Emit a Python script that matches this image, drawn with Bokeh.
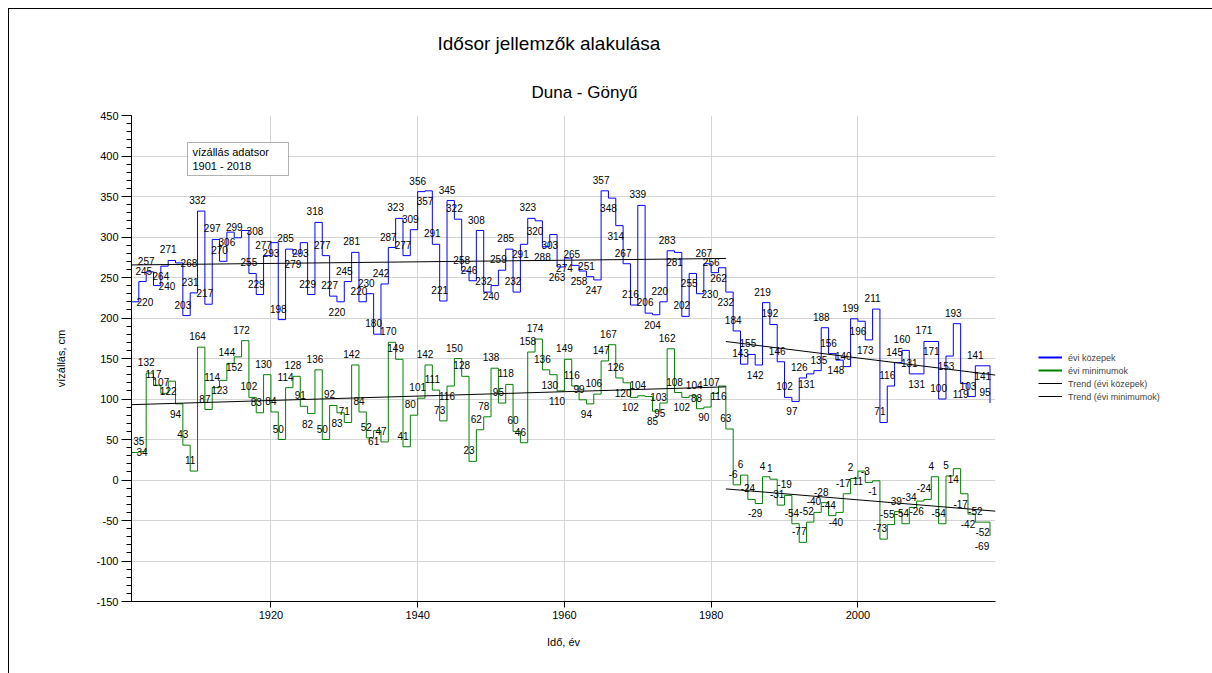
from bokeh.plotting import figure
from bokeh.models import (Range1d, Label, Legend, LegendItem, FixedTicker,
                          BoxAnnotation, ColumnDataSource, Title)
from bokeh.embed import file_html
from bokeh.resources import INLINE
from bokeh.core.properties import value

# ---------------- data ----------------
years = list(range(1901, 2019))
kozep = [220, 245, 257, 240, 264, 271, 268, 203, 231, 332,
         217, 297, 270, 306, 299, 308, 255, 229, 277, 293,
         198, 285, 279, 293, 229, 318, 277, 227, 220, 245,
         281, 220, 230, 180, 242, 287, 323, 277, 309, 356,
         357, 291, 221, 345, 322, 258, 246, 308, 232, 240,
         259, 285, 232, 291, 323, 320, 288, 303, 263, 274,
         265, 258, 251, 247, 357, 348, 314, 267, 216, 339,
         206, 204, 220, 283, 281, 202, 255, 230, 267, 256,
         262, 232, 184, 143, 155, 142, 219, 192, 146, 102,
         97, 126, 131, 135, 188, 156, 148, 140, 199, 196,
         173, 211, 71, 116, 145, 160, 131, 131, 171, 171,
         100, 153, 193, 119, 103, 141, 141, 95]
minimum = [34, 35, 132, 117, 107, 122, 94, 43, 11, 164,
           87, 114, 123, 144, 152, 172, 102, 83, 130, 84,
           50, 114, 128, 91, 82, 136, 50, 92, 83, 71,
           142, 84, 52, 61, 47, 170, 149, 41, 80, 101,
           142, 111, 73, 116, 150, 128, 23, 62, 78, 138,
           95, 118, 60, 46, 158, 174, 136, 130, 110, 149,
           116, 99, 94, 106, 147, 167, 126, 120, 102, 104,
           103, 85, 95, 162, 108, 102, 104, 88, 90, 107,
           116, 63, -6, 6, -24, -29, 4, 1, -31, -19,
           -54, -77, -52, -40, -28, -44, -40, -17, 2, 11,
           -3, -1, -73, -55, -39, -54, -34, -26, -24, 4,
           -54, 5, 14, -17, -42, -52, -52, -69]
trend_kozep_x1 = [1901, 1982]
trend_kozep_y1 = [265.5, 273.5]
trend_kozep_x2 = [1982, 2018.75]
trend_kozep_y2 = [171, 129.5]
trend_min_x1 = [1901, 1982]
trend_min_y1 = [93, 115]
trend_min_x2 = [1982, 2018.75]
trend_min_y2 = [-11, -38.5]
x_ticks = [1920, 1940, 1960, 1980, 2000]
y_ticks = [-150, -100, -50, 0, 50, 100, 150, 200, 250, 300, 350, 400, 450]

title_text = "Idősor jellemzők alakulása"
subtitle_text = "Duna - Gönyű"
box_lines = ["vízállás adatsor", "1901 - 2018"]
legend_labels = ["évi közepek", "évi minimumok", "Trend (évi közepek)", "Trend (évi minimumok)"]

# ---------------- layout (page pixels of the reference) ----------------
OX, OY = 9, 9            # canvas origin inside the page (after the outer frame line)
PW, PH = 1212, 673
W, H = PW - OX, PH - OY
FL, FR, FT, FB = 131 - OX, 995 - OX, 115 - OY, 601 - OY   # frame in canvas px
X0, X1 = 1901, 2018.75
Y0, Y1 = -150, 450
FONT = "Liberation Sans"
BLUE, GREEN = "#0000ff", "#008000"

p = figure(frame_width=FR - FL, frame_height=FB - FT,
           x_range=Range1d(X0, X1), y_range=Range1d(Y0, Y1),
           output_backend="svg", toolbar_location=None,
           min_border_left=FL, min_border_right=W - FR,
           min_border_top=FT, min_border_bottom=H - FB,
           margin=(OY - 1, 0, 0, OX - 1),
           styles={"border-left": "1px solid #000", "border-top": "1px solid #000"})
p.outline_line_color = None
p.background_fill_color = "white"
p.border_fill_color = "white"

# axes
p.xaxis.ticker = FixedTicker(ticks=x_ticks)
p.yaxis.ticker = FixedTicker(ticks=y_ticks, minor_ticks=list(range(-150, 451, 10)))
p.yaxis.major_label_overrides = {t: str(t) for t in y_ticks}
p.xaxis.minor_tick_line_color = None
for ax in (p.xaxis, p.yaxis):
    ax.axis_line_color = "black"
    ax.major_tick_line_color = "black"
    ax.major_tick_in = 0
    ax.major_label_text_font = FONT
    ax.major_label_text_font_size = "11px"
    ax.major_label_text_color = "black"
    ax.axis_label_text_font = FONT
    ax.axis_label_text_font_size = "11px"
    ax.axis_label_text_font_style = "normal"
    ax.axis_label_text_color = "black"
p.yaxis.major_tick_out = 10
p.yaxis.minor_tick_out = 5
p.yaxis.minor_tick_in = 0
p.yaxis.minor_tick_line_color = "black"
p.yaxis.major_label_standoff = 3
p.yaxis.axis_label = "vízállás, cm"
p.yaxis.axis_label_standoff = 26
p.xaxis.major_tick_out = 6
p.xaxis.major_label_standoff = 3
p.xaxis.axis_label = "Idő, év"
p.xaxis.axis_label_standoff = 14

p.xgrid.ticker = FixedTicker(ticks=x_ticks)
p.ygrid.ticker = FixedTicker(ticks=y_ticks)
p.xgrid.grid_line_color = "#d4d4d4"
p.ygrid.grid_line_color = "#d4d4d4"

# series
p.step(years, kozep, mode="after", line_color=BLUE, line_width=1)
p.step(years, minimum, mode="after", line_color=GREEN, line_width=1)
r_tk = p.multi_line([trend_kozep_x1, trend_kozep_x2], [trend_kozep_y1, trend_kozep_y2],
                    line_color="black", line_width=1)
r_tm = p.multi_line([trend_min_x1, trend_min_x2], [trend_min_y1, trend_min_y2],
                    line_color="black", line_width=1)

# legend swatches for the step series (single-point lines draw nothing on the plot)
lg_k = p.line(years[:1], kozep[:1], line_color=BLUE, line_width=2)
lg_m = p.line(years[:1], minimum[:1], line_color=GREEN, line_width=2)

# ---------------- data labels with simple collision avoidance ----------------
sxp = (FR - FL) / (X1 - X0)
syp = (FB - FT) / (Y1 - Y0)


def px(x):
    return FL + (x - X0) * sxp


def py(v):
    return FB - (v - Y0) * syp


placed = []


def free(b):
    if b[0] < FL or b[2] > FR - 1:
        return False
    for c in placed:
        if b[0] < c[2] and b[2] > c[0] and b[1] < c[3] and b[3] > c[1]:
            return False
    return True


def place(x, v):
    t = str(v)
    w = sum(3.4 if ch == "-" else 5.6 for ch in t)
    h = 8
    cx, cy = px(x), py(v)
    cands = [(0, -11), (0, 10), (5, -11), (-5, -11), (w / 2 + 5, 0),
             (-w / 2 - 5, 0), (-8, 10), (-10, -11)]
    for dx, dy in cands:
        b = (cx + dx - w / 2, cy + dy - h / 2, cx + dx + w / 2, cy + dy + h / 2)
        if free(b):
            placed.append(b)
            return dx, dy
    dx, dy = (-6, -11) if cx + w / 2 > FR - 1 else (0, -11)
    placed.append((cx + dx - w / 2, cy + dy - h / 2, cx + dx + w / 2, cy + dy + h / 2))
    return dx, dy


lx, ly, lt, ldx, ldy = [], [], [], [], []
for i, yr in enumerate(years):
    for series in (kozep, minimum):
        v = series[i]
        dx, dy = place(yr, v)
        lx.append(yr)
        ly.append(v)
        lt.append(str(v))
        ldx.append(dx)
        ldy.append(dy)

src = ColumnDataSource(dict(x=lx, y=ly, t=lt, dx=ldx, dy=ldy))
p.text(x="x", y="y", text="t", x_offset="dx", y_offset="dy", source=src,
       text_align="center", text_baseline="middle", text_font=value(FONT),
       text_font_size="10px", text_color="black")

# ---------------- titles (above panel) ----------------
sub = Title(text=subtitle_text, align="left", offset=531 - 131,
            text_font=FONT, text_font_size="17px", text_font_style="normal",
            text_color="black", standoff=28)
p.add_layout(sub, "above")
ttl = Title(text=title_text, align="left", offset=437 - 131,
            text_font=FONT, text_font_size="19px", text_font_style="normal",
            text_color="black", standoff=25)
p.add_layout(ttl, "above")

# text box
p.add_layout(BoxAnnotation(left=187 - OX - FL, right=288 - OX - FL,
                           top=FB - (142 - OY), bottom=FB - (175 - OY),
                           left_units="screen", right_units="screen",
                           top_units="screen", bottom_units="screen",
                           fill_color="white", fill_alpha=1.0,
                           line_color="black", line_width=1))
for k, txt in enumerate(box_lines):
    p.add_layout(Label(x=192 - OX - FL, y=FB - (151 + 14 * k - OY),
                       x_units="screen", y_units="screen",
                       text=txt, text_align="left", text_baseline="middle",
                       text_font=FONT, text_font_size="11px", text_color="black"))

# legend in the right panel
legend = Legend(items=[LegendItem(label=legend_labels[0], renderers=[lg_k]),
                       LegendItem(label=legend_labels[1], renderers=[lg_m]),
                       LegendItem(label=legend_labels[2], renderers=[r_tk]),
                       LegendItem(label=legend_labels[3], renderers=[r_tm])],
                location="left", title=" ")
legend.title_text_font_size = "9px"
legend.title_standoff = 27
legend.padding = 0
legend.margin = 43
legend.spacing = 0
legend.label_height = 13
legend.glyph_height = 13
legend.glyph_width = 24
legend.label_standoff = 6
legend.label_text_font = FONT
legend.label_text_font_size = "9px"
legend.border_line_color = None
legend.background_fill_alpha = 0
p.add_layout(legend, "right")

open("out.html", "w").write(file_html(p, INLINE))
